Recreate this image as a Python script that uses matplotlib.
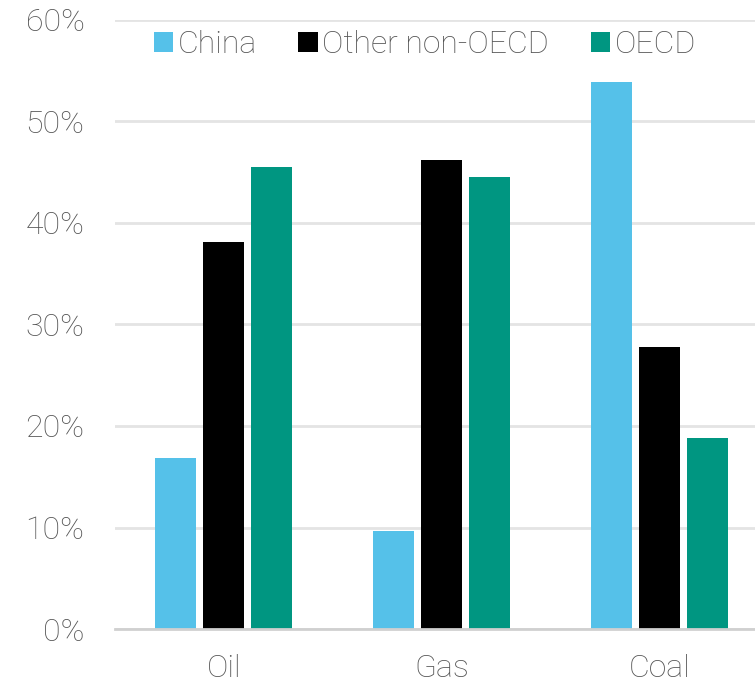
import matplotlib
matplotlib.use('Agg')
import matplotlib.pyplot as plt
import numpy as np

# Share of fuel demand by region
fuels = ['Oil', 'Gas', 'Coal']
china = [16.8, 9.7, 53.9]
other_non_oecd = [38.1, 46.2, 27.8]
oecd = [45.5, 44.5, 18.8]

colors = ['#55c1e9', '#000000', '#009681']
labels = ['China', 'Other non-OECD', 'OECD']
text_color = '#555555'

plt.rcParams['font.family'] = ['Roboto', 'DejaVu Sans']
plt.rcParams['font.weight'] = 'light'

fig = plt.figure(figsize=(7.55, 6.84), dpi=100)
ax = fig.add_axes([0.1523, 0.0804, 0.8477, 0.8904])

x = np.arange(len(fuels))
width = 0.188
step = 0.22
for i, (vals, c, lab) in enumerate(zip([china, other_non_oecd, oecd], colors, labels)):
    ax.bar(x + (i - 1) * step, vals, width=width, color=c, label=lab, zorder=3)

ax.set_ylim(0, 60)
ax.set_xlim(-0.5, 2.44)
ax.set_yticks(range(0, 61, 10))
ax.set_yticklabels([f'{v}%' for v in range(0, 61, 10)])
ax.set_xticks(x)
ax.set_xticklabels(fuels)
ax.tick_params(axis='both', length=0, labelsize=23, colors=text_color)
ax.tick_params(axis='y', pad=22)
ax.tick_params(axis='x', pad=18)
ax.yaxis.grid(True, color='#e4e4e4', linewidth=2, zorder=0)
for s in ['top', 'right', 'left']:
    ax.spines[s].set_visible(False)
ax.spines['bottom'].set_color('#d0d0d0')
ax.spines['bottom'].set_linewidth(2)
ax.spines['bottom'].set_zorder(4)

leg = ax.legend(loc='upper center', bbox_to_anchor=(0.484, 1.03), ncol=3, frameon=False,
                fontsize=23, handlelength=0.6, handleheight=0.6, handletextpad=0.15,
                columnspacing=1.3)
for t in leg.get_texts():
    t.set_color(text_color)

plt.savefig('out.png', dpi=100)
